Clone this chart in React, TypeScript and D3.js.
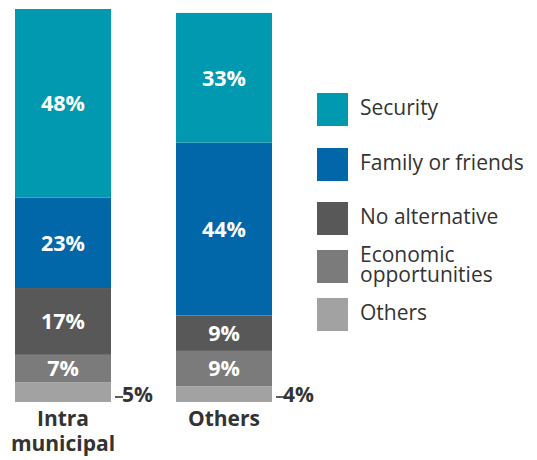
import React from 'react';
import * as d3 from 'd3';

const categories = ['Intra municipal', 'Others'];
const categoryLines = [['Intra', 'municipal'], ['Others']];
const seriesNames = ['Security', 'Family or friends', 'No alternative', 'Economic opportunities', 'Others'];
const legendLines = [['Security'], ['Family or friends'], ['No alternative'], ['Economic', 'opportunities'], ['Others']];
const colors = ['#0199b0', '#0167a9', '#585858', '#7b7b7b', '#a2a2a2'];
// values per series, in category order
const security = [48, 33];
const family = [23, 44];
const noAlternative = [17, 9];
const economic = [7, 9];
const others = [5, 4];

const seriesValues = [security, family, noAlternative, economic, others];

const W = 537;
const H = 460;

const App: React.FC = () => {
  const rows = categories.map((c, i) => {
    const r: Record<string, number | string> = { category: c };
    seriesNames.forEach((s, j) => { r[s] = seriesValues[j][i]; });
    return r;
  });

  // bottom of the bar is the last series, so stack in reverse
  const stack = d3.stack<Record<string, number | string>>()
    .keys([...seriesNames].reverse())
    .value((d, k) => d[k] as number);
  const stacked = stack(rows);

  const x = d3.scaleBand().domain(categories).range([15, 272]).paddingInner(65 / 161).paddingOuter(0);
  const y = d3.scaleLinear().domain([0, 100]).range([402, 9]);

  const font = '"Open Sans", Lato, sans-serif';

  return (
    <svg width={W} height={H} style={{ position: 'absolute', left: 0, top: 0 }} fontFamily={font}>
      {stacked.map((layer) => {
        const si = seriesNames.indexOf(layer.key);
        return (
          <g key={layer.key}>
            {layer.map((d, ci) => {
              const cat = categories[ci];
              const x0 = x(cat)!;
              const y0 = y(d[1]);
              const h = y(d[0]) - y(d[1]);
              const val = d[1] - d[0];
              const bw = x.bandwidth();
              return (
                <g key={cat}>
                  <rect x={x0} y={y0} width={bw} height={h} fill={colors[si]} />
                  {d[0] > 0 ? (
                    <text
                      x={x0 + bw / 2}
                      y={y0 + h / 2}
                      dy="0.36em"
                      textAnchor="middle"
                      fill="#fff"
                      fontWeight={700}
                      fontSize={21.5}
                    >{`${val}%`}</text>
                  ) : (
                    <g>
                      <line x1={x0 + bw + 4} x2={x0 + bw + 12} y1={y(0) - 5} y2={y(0) - 5} stroke="#333" strokeWidth={1.6} />
                      <text x={x0 + bw + 11} y={y(0)} fill="#333" fontWeight={700} fontSize={21}>{`${val}%`}</text>
                    </g>
                  )}
                </g>
              );
            })}
          </g>
        );
      })}
      {categories.map((c, ci) => (
        <text key={c} textAnchor="middle" fill="#333" fontWeight={700} fontSize={21}>
          {categoryLines[ci].map((ln, li) => (
            <tspan key={li} x={x(c)! + x.bandwidth() / 2} y={426 + li * 25}>{ln}</tspan>
          ))}
        </text>
      ))}
      {seriesNames.map((s, i) => {
        const top = [93, 148, 202, 250, 298][i];
        const lines = legendLines[i];
        return (
          <g key={s}>
            <rect x={317} y={top} width={31} height={33} fill={colors[i]} />
            <text fill="#333" fontSize={21}>
              {lines.map((ln, li) => (
                <tspan key={li} x={360} y={top + 15 + (li - (lines.length - 1) / 2) * 20} dy="0.35em">{ln}</tspan>
              ))}
            </text>
          </g>
        );
      })}
    </svg>
  );
};

export default App;
